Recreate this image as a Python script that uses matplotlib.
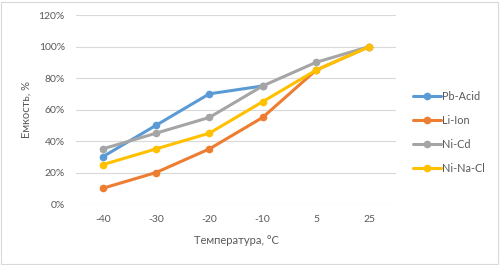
import numpy as np
from matplotlib import pyplot as plt
from matplotlib.ticker import PercentFormatter

plt.rcParams['font.family'] = ['Lato', 'DejaVu Sans']

temps = ['-40', '-30', '-20', '-10', '5', '25']
pb_acid = [30, 50, 70, 75, np.nan, np.nan]
li_ion = [10, 20, 35, 55, 85, 100]
ni_cd = [35, 45, 55, 75, 90, 100]
ni_na_cl = [25, 35, 45, 65, 85, 100]

series = [('Pb-Acid', pb_acid, '#5B9BD5'),
          ('Li-Ion', li_ion, '#ED7D31'),
          ('Ni-Cd', ni_cd, '#A5A5A5'),
          ('Ni-Na-Cl', ni_na_cl, '#FFC000')]

fig = plt.figure(figsize=(5, 2.65), dpi=100)
ax = fig.add_axes([0.152, 0.23, 0.64, 0.713])
x = np.arange(len(temps))
for name, vals, col in series:
    ax.plot(x, vals, color=col, lw=2.2, marker='o', ms=4.5, label=name,
            solid_capstyle='round', zorder=3)

ax.set_xlim(-0.5, len(temps) - 0.5)
ax.set_ylim(0, 120)
ax.set_yticks(range(0, 121, 20))
ax.yaxis.set_major_formatter(PercentFormatter(decimals=0))
ax.set_xticks(x)
ax.set_xticklabels(temps)
ax.grid(axis='y', color='#D9D9D9', lw=0.8, zorder=0)
for s in ax.spines.values():
    s.set_visible(False)
ax.tick_params(length=0, colors='#595959', labelsize=7.5, pad=8)
ax.set_ylabel('Емкость, %', color='#595959', fontsize=8, labelpad=5)
ax.set_xlabel('Температура, °C', color='#595959', fontsize=8, labelpad=8)

leg = fig.legend(loc='center left', bbox_to_anchor=(0.826, 0.5), frameon=False,
                 fontsize=7.8, labelspacing=1.2, handlelength=2.6,
                 handletextpad=0.1, borderaxespad=0, borderpad=0)
for t in leg.get_texts():
    t.set_color('#595959')

fig.patches.append(plt.Rectangle((0.002, 0.004), 0.994, 0.99, transform=fig.transFigure,
                                 fill=False, edgecolor='#D9D9D9', lw=0.8))
fig.savefig('out.png', dpi=100)
